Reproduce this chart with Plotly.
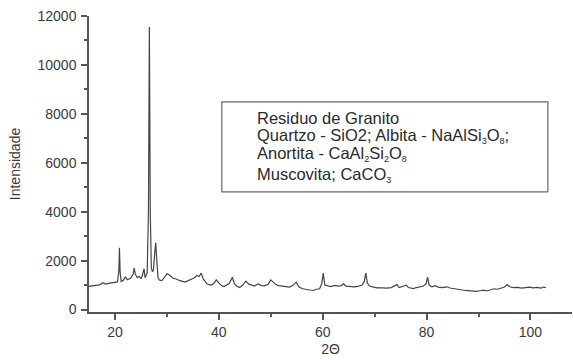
import plotly.graph_objects as go

two_theta = [15.0, 16.0, 17.0, 17.7, 18.2, 19.0, 20.0, 20.5, 20.75, 20.86, 21.0, 21.2, 21.6, 22.0, 22.4,
             23.0, 23.5, 23.7, 23.9, 24.3, 24.7, 25.0, 25.3, 25.6, 25.8, 26.2, 26.45, 26.62, 26.8, 27.0,
             27.2, 27.4, 27.65, 27.85, 28.05, 28.3, 28.6, 29.0, 29.5, 30.0, 30.4, 30.8, 31.2, 31.8, 32.5,
             33.5, 34.2, 34.8, 35.3, 35.8, 36.2, 36.6, 37.0, 37.7, 38.5, 39.0, 39.5, 40.0, 40.5, 41.0,
             41.5, 42.0, 42.6, 43.0, 43.5, 44.0, 44.6, 45.2, 45.7, 46.2, 46.8, 47.6, 48.2, 48.8, 49.5,
             50.0, 50.5, 51.0, 51.5, 52.3, 53.0, 53.6, 54.3, 54.9, 55.4, 56.0, 56.8, 57.5, 58.2, 58.8,
             59.4, 59.8, 60.1, 60.4, 61.0, 61.5, 62.3, 63.0, 63.6, 64.0, 64.5, 65.2, 66.0, 66.8, 67.6,
             68.0, 68.3, 68.6, 69.0, 69.8, 70.5, 71.5, 72.3, 73.2, 73.8, 74.3, 74.7, 75.3, 75.7, 76.1,
             76.5, 77.0, 77.5, 78.0, 78.6, 79.3, 79.9, 80.2, 80.5, 81.0, 81.7, 82.2, 83.0, 83.9, 84.5,
             85.5, 86.5, 87.5, 88.5, 89.5, 90.3, 91.0, 91.6, 92.2, 93.0, 93.7, 94.5, 95.0, 95.5, 96.0,
             96.8, 97.5, 98.3, 99.0, 99.8, 100.5, 101.3, 102.0, 102.5, 103.0]

intensity = [950, 970, 1010, 1100, 1040, 1080, 1110, 1130, 1600, 2530, 1500, 1150, 1200, 1330, 1220,
             1280, 1450, 1700, 1450, 1300, 1360, 1260, 1400, 1670, 1300, 1500, 4000, 11550, 4000, 1700,
             1550, 1600, 2300, 2740, 2000, 1300, 1200, 1180, 1300, 1460, 1420, 1350, 1280, 1250, 1180,
             1120, 1180, 1250, 1300, 1390, 1350, 1490, 1250, 1050, 990, 1050, 1215, 1080, 980, 940,
             1000, 1060, 1320, 1050, 950, 900, 1000, 1160, 1050, 1000, 960, 1050, 980, 970, 1030,
             1215, 1100, 1020, 980, 960, 950, 920, 990, 1120, 930, 860, 820, 800, 780, 830,
             850, 1050, 1490, 1000, 960, 940, 990, 960, 980, 1050, 960, 940, 930, 950, 1000,
             1150, 1490, 1080, 960, 920, 890, 890, 880, 900, 950, 1020, 900, 930, 980, 1000,
             900, 880, 860, 900, 920, 950, 1050, 1320, 1000, 930, 980, 920, 900, 930, 880,
             840, 800, 780, 760, 740, 770, 790, 760, 810, 850, 830, 880, 920, 1020, 930,
             900, 910, 880, 900, 920, 890, 910, 880, 920, 890]

x_ticks = [20, 40, 60, 80, 100]
x_minor = [30, 50, 70, 90]
y_ticks = [0, 2000, 4000, 6000, 8000, 10000, 12000]
y_ticklabels = ["0", "2000", "4000", "6000", "8000", "10000", "12000"]
y_minor = [1000, 3000, 5000, 7000, 9000, 11000]

SUB = "<sub><span style='font-size:9px'>{}</span></sub>"
legend_lines = [
    "Residuo de Granito",
    "Quartzo - SiO2; Albita - NaAlSi" + SUB.format("3") + "O" + SUB.format("8") + ";",
    "Anortita - CaAl" + SUB.format("2") + "Si" + SUB.format("2") + "O" + SUB.format("8"),
    "Muscovita; CaCO" + SUB.format("3"),
]
legend_y = [0.657, 0.594, 0.533, 0.463]

FONT = "Liberation Sans, Arial, sans-serif"
TXT = "#3a3a3a"
AX = "#555555"

fig = go.Figure()
fig.add_trace(go.Scatter(x=two_theta, y=intensity, mode="lines",
                         line=dict(color="#444444", width=1.2), showlegend=False))

fig.update_layout(
    width=573, height=360,
    margin=dict(l=89, r=1, t=16, b=48),
    paper_bgcolor="white", plot_bgcolor="white",
    font=dict(family=FONT, color=TXT, size=14),
    showlegend=False,
)
fig.update_xaxes(
    range=[15, 108], showgrid=False, zeroline=False,
    showline=True, linecolor=AX, linewidth=1.5,
    tickmode="array", tickvals=x_ticks,
    ticks="outside", ticklen=6, tickwidth=1.5, tickcolor=AX,
    minor=dict(tickmode="array", tickvals=x_minor, ticks="outside",
               ticklen=3, tickwidth=1.5, tickcolor=AX),
    tickfont=dict(size=14, color=TXT),
    title=dict(text="2Θ", font=dict(size=14, color=TXT), standoff=6),
)
fig.update_yaxes(
    range=[-100, 12000], showgrid=False, zeroline=False,
    showline=True, linecolor=AX, linewidth=1.5,
    tickmode="array", tickvals=y_ticks, ticktext=y_ticklabels,
    ticks="outside", ticklen=6, tickwidth=1.5, tickcolor=AX,
    minor=dict(tickmode="array", tickvals=y_minor,
               ticks="outside", ticklen=3, tickwidth=1.5, tickcolor=AX),
    tickfont=dict(size=14, color=TXT),
    ticklabelstandoff=2,
    title=dict(text="Intensidade", font=dict(size=14, color=TXT), standoff=14),
)

fig.add_shape(type="rect", xref="paper", yref="paper",
              x0=0.275, x1=0.950, y0=0.406, y1=0.710,
              line=dict(color="#666666", width=1.2))
for txt, yy in zip(legend_lines, legend_y):
    fig.add_annotation(xref="paper", yref="paper", x=0.344, y=yy,
                       xanchor="left", yanchor="middle", text=txt, showarrow=False,
                       font=dict(size=16.5, color="#2a2a2a", family=FONT))

fig.write_html("out.html")
